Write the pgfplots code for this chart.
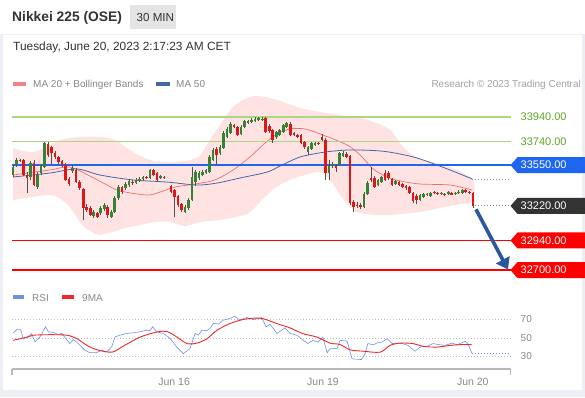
\documentclass[border=0pt]{standalone}
\usepackage{pgfplots}
\pgfplotsset{compat=1.18}
\usepackage{pgfplotstable}
\usetikzlibrary{arrows.meta}
\usepackage{fontspec}
\setmainfont{Liberation Sans}
\definecolor{bggray}{RGB}{236,240,244}
\definecolor{candleup}{RGB}{52,132,52}
\definecolor{candledn}{RGB}{222,22,22}
\definecolor{wickcol}{RGB}{80,80,80}
\definecolor{bbfill}{RGB}{255,226,226}
\definecolor{ma20}{RGB}{240,110,110}
\definecolor{ma50}{RGB}{70,105,165}
\definecolor{resgreen}{RGB}{172,214,128}
\definecolor{restext}{RGB}{92,168,40}
\definecolor{pivotblue}{RGB}{30,102,240}
\definecolor{supred}{RGB}{255,0,0}
\definecolor{lastdark}{RGB}{51,51,51}
\definecolor{arrowblue}{RGB}{42,88,158}
\definecolor{rsiblue}{RGB}{110,145,235}
\definecolor{rsired}{RGB}{240,40,40}
\definecolor{txtgray}{RGB}{136,136,136}
\definecolor{titlegray}{RGB}{51,51,51}
\definecolor{boxgray}{RGB}{228,228,228}
\definecolor{dotgray}{RGB}{190,190,190}

\pgfplotstableread{
i o h l c
0 33470 33551 33454 33535
1 33551 33608 33535 33592
5 33454 33584 33430 33567
7 33373 33494 33357 33470
8 33486 33559 33470 33543
9 33535 33737 33527 33729
17 33503 33543 33486 33527
23 33138 33187 33122 33170
25 33162 33219 33146 33203
26 33195 33243 33179 33227
28 33130 33187 33122 33170
29 33170 33300 33162 33284
30 33284 33389 33268 33373
32 33365 33413 33349 33397
33 33389 33438 33373 33422
35 33405 33446 33397 33430
36 33422 33454 33413 33438
37 33434 33462 33422 33450
39 33446 33519 33438 33511
42 33446 33470 33438 33462
49 33170 33227 33162 33211
50 33203 33284 33187 33268
51 33268 33535 33260 33454
52 33413 33511 33381 33494
53 33446 33503 33430 33486
54 33470 33511 33462 33494
55 33486 33519 33478 33511
56 33494 33632 33486 33616
57 33592 33689 33584 33673
59 33648 33713 33632 33697
60 33689 33827 33681 33810
61 33778 33859 33770 33843
62 33810 33899 33802 33883
65 33802 33875 33794 33859
66 33859 33916 33851 33908
67 33891 33916 33883 33908
68 33899 33932 33891 33916
69 33908 33940 33899 33924
70 33916 33940 33908 33932
71 33916 33940 33908 33924
75 33778 33827 33762 33818
76 33794 33843 33786 33835
77 33818 33883 33810 33875
78 33859 33899 33851 33891
84 33656 33705 33632 33697
85 33681 33737 33673 33729
86 33713 33737 33705 33729
90 33486 33592 33430 33543
91 33543 33575 33527 33559
93 33551 33656 33543 33648
94 33624 33665 33616 33648
100 33211 33332 33203 33316
101 33316 33422 33308 33405
104 33389 33438 33381 33430
105 33413 33462 33405 33454
109 33397 33430 33389 33422
116 33268 33316 33260 33308
117 33292 33324 33284 33316
118 33308 33324 33300 33316
119 33300 33332 33292 33324
122 33316 33332 33308 33324
124 33316 33341 33308 33332
126 33320 33332 33308 33328
127 33328 33349 33316 33336
128 33324 33357 33316 33349
}\upcandles

\pgfplotstableread{
i o h l c
2 33592 33600 33575 33584
3 33592 33600 33462 33470
4 33470 33494 33324 33446
6 33567 33592 33381 33389
10 33721 33737 33616 33632
11 33697 33705 33551 33648
12 33648 33665 33600 33616
13 33616 33624 33559 33575
14 33584 33592 33535 33551
15 33551 33567 33422 33430
16 33438 33454 33381 33397
18 33511 33527 33405 33413
19 33413 33430 33349 33365
20 33357 33365 33106 33203
21 33211 33235 33170 33187
22 33203 33219 33138 33146
24 33162 33170 33122 33130
27 33211 33227 33122 33146
31 33373 33381 33316 33332
34 33413 33430 33389 33405
38 33454 33462 33438 33446
40 33511 33519 33462 33470
41 33486 33494 33422 33430
43 33454 33462 33438 33446
45 33381 33389 33324 33332
46 33349 33357 33130 33292
47 33300 33308 33211 33227
48 33235 33243 33170 33187
58 33681 33697 33551 33632
63 33875 33883 33851 33859
64 33859 33867 33786 33794
72 33932 33940 33810 33818
73 33867 33883 33810 33827
74 33835 33843 33729 33754
79 33883 33899 33786 33794
80 33810 33818 33786 33794
81 33794 33802 33770 33778
82 33794 33802 33721 33729
83 33737 33746 33681 33697
87 33729 33737 33713 33721
88 33778 33802 33746 33754
89 33754 33770 33430 33486
92 33543 33559 33494 33527
95 33640 33656 33608 33616
96 33624 33632 33227 33243
97 33251 33268 33170 33211
98 33227 33251 33203 33219
99 33227 33243 33195 33211
102 33446 33535 33413 33430
103 33446 33462 33365 33373
106 33486 33511 33422 33430
107 33486 33503 33430 33446
108 33438 33446 33381 33389
110 33413 33422 33381 33389
111 33397 33405 33365 33373
112 33381 33389 33349 33361
113 33373 33381 33316 33324
114 33324 33332 33243 33260
115 33300 33316 33235 33268
120 33332 33341 33316 33324
121 33324 33332 33308 33316
123 33316 33324 33300 33310
125 33324 33332 33308 33312
129 33349 33357 33324 33332
130 33332 33341 33316 33326
131 33324 33332 33203 33220
}\dncandles

% Bollinger band outline: upper band left to right, then lower band right to left
\pgfplotstableread{
i p
0 33689
4.8 33656
9.1 33689
13.4 33754
19.1 33778
24.8 33778
29.1 33754
33.3 33673
39.0 33592
44.7 33575
50.4 33592
53.3 33632
56.1 33754
59.0 33875
62.4 34013
66.1 34086
68.9 34110
71.8 34102
76.1 34070
81.8 34013
87.5 33981
93.2 33956
98.9 33932
102.6 33900
107.4 33835
111.7 33681
116.0 33600
120.8 33567
126.5 33511
131 33430
131 33260
127.4 33235
121.7 33203
116.0 33170
110.3 33154
104.6 33146
98.9 33162
96.0 33211
93.2 33308
90.3 33430
87.5 33494
83.2 33470
78.9 33430
74.6 33365
70.9 33268
67.5 33170
64.7 33138
59.0 33106
53.3 33090
49.0 33057
44.7 33090
40.5 33090
36.2 33065
31.9 33041
28.2 33009
24.8 32984
22.5 33009
19.7 33065
16.8 33187
14.0 33268
10.5 33308
3.4 33284
0 33268
}\bbands

\pgfplotstableread{
i p
0 33470
10.5 33511
16.2 33535
21.9 33462
26.8 33389
30.5 33341
38.2 33308
41.9 33332
46.2 33373
51.9 33397
57.5 33430
62.7 33511
67.5 33616
71.8 33729
75.2 33802
78.9 33843
83.2 33843
88.3 33794
95.2 33713
98.9 33632
102.6 33519
106.6 33454
110.3 33422
116.0 33397
124.5 33389
130.8 33349
}\maTwenty

\pgfplotstableread{
i p
0 33454
10.5 33486
18.2 33519
24.8 33470
34.2 33430
43.9 33413
52.4 33389
58.1 33405
64.7 33446
72.4 33494
76.1 33543
81.8 33616
88.9 33656
96.0 33673
104.6 33665
110.3 33640
116.0 33600
124.5 33511
130.8 33438
}\maFifty

\pgfplotstableread{
i v
0.1 55.5
1.05 59
2.2 59
2.9 49.5
3.9 50.4
5.3 54.7
6.3 45.8
7.7 51.3
9.3 62.2
10.1 56.7
11.5 56
12.9 53.8
13.9 55
16.2 44
17.2 48.4
18.6 44
20.5 36.7
21.9 34.2
23.8 34.2
25.3 36.7
26.7 34.9
28.1 40.4
29.1 51.3
30.5 53.1
32.4 54.9
34.3 55.6
36.2 56.7
38.1 58.5
39.0 57.8
39.8 62.2
40.9 56.7
42.8 54.9
44.2 51.3
45.2 47.6
46.6 40.4
48.5 33.1
50.4 38.5
51.9 54.9
52.8 53.1
53.8 58.5
55.2 57.8
56.1 60.4
57.1 65.8
58.5 65.1
59.9 69.3
61.8 71.1
63.2 73.6
64.7 69.3
66.6 72.2
68.5 70
70.9 72
72.1 62
73.2 65
75.2 55
77.5 61
78.9 55
80.9 53
82.6 48
84.0 44
85.5 47.5
86.9 45.6
88.3 51
89.5 34
90.3 38.4
92.3 38.4
93.2 47.5
95.2 46.7
96.6 27.5
99.3 26.7
100.3 33
101.1 44
102.6 42.7
104.0 45
105.1 45.6
106.6 49.3
108.0 44
109.4 44.5
111.1 44
112.5 42
114.5 35.8
116.0 40.2
117.9 41
119.7 44
121.1 43
123.1 42
125.1 44.5
126.5 42.7
128.8 46.4
129.6 44
130.8 33
}\rsi

\pgfplotstableread{
i v
0 47.5
4.0 51
5.7 53
10.5 53.6
15.4 53
18.2 49.3
21.1 42
23.9 37.3
28.2 34.7
31.3 41
36.2 51
41.0 56.5
43.9 57
46.7 51
49.6 44
52.4 44.5
55.3 49.3
58.1 58.4
61.8 65.6
65.5 70
68.9 71.5
71.2 71
75.2 65.6
78.9 61
82.6 54.7
86.6 51
90.3 44.5
93.2 43
96.0 37.3
99.7 35.8
104.6 34.7
107.4 42
110.3 44.5
114.0 44
116.8 41
120.8 40.2
124.5 42
128.2 43
130.8 42.7
}\rsima

\newcommand{\tagfont}{\fontsize{11}{13}\selectfont}
\newcommand{\pricetag}[3]{%
  \fill[#1] (#2) -- ++(7pt,8pt) -- ++(67.5pt,0pt) -- ++(0pt,-16pt) -- ++(-67.5pt,0pt) -- cycle;
  \node[anchor=west, inner sep=0, text=white, font=\tagfont, xshift=10pt] at (#2) {#3};}

\begin{document}
\begin{tikzpicture}
\fill[bggray] (0,0) rectangle (585pt,397pt);
\fill[white] (0,363pt) rectangle (585pt,397pt);
\fill[white] (3pt,7pt) rectangle (582pt,362pt);

% header
\node[anchor=base west, inner sep=0, text=titlegray] at (12pt,375pt) {\fontsize{13.8}{16}\selectfont\bfseries Nikkei 225 (OSE)};
\fill[boxgray] (130pt,368pt) rectangle (176pt,392pt);
\node[anchor=base west, inner sep=0, text=titlegray] at (136.5pt,375pt) {\fontsize{11.6}{14}\selectfont 30 MIN};
\node[anchor=base west, inner sep=0, text=titlegray] at (13pt,346pt) {\fontsize{11.9}{14}\selectfont Tuesday, June 20, 2023 2:17:23 AM CET};

% legends
\fill[ma20!85] (13pt,311pt) rectangle (26pt,315pt);
\node[anchor=base west, inner sep=0, text=txtgray] at (33pt,309pt) {\fontsize{10}{12}\selectfont MA 20 + Bollinger Bands};
\fill[ma50] (156pt,311pt) rectangle (170pt,315pt);
\node[anchor=base west, inner sep=0, text=txtgray] at (176pt,309pt) {\fontsize{10}{12}\selectfont MA 50};
\node[anchor=base east, inner sep=0, text=txtgray!80] at (581pt,309pt) {\fontsize{10}{12}\selectfont Research © 2023 Trading Central};
\fill[rsiblue] (13pt,98pt) rectangle (24pt,102pt);
\node[anchor=base west, inner sep=0, text=txtgray] at (32pt,96pt) {\fontsize{10}{12}\selectfont RSI};
\fill[rsired] (62pt,98pt) rectangle (74pt,102pt);
\node[anchor=base west, inner sep=0, text=txtgray] at (82pt,96pt) {\fontsize{10}{12}\selectfont 9MA};

% price panel
\begin{axis}[at={(12pt,115pt)}, anchor=south west, scale only axis,
  width=498.5pt, height=187pt,
  xmin=-0.285, xmax=141.74, ymin=32603.5, ymax=34118.2,
  hide axis, clip=false]
\addplot[fill=bbfill, draw=none, mark=none, smooth, tension=0.6] table[x=i,y=p] {\bbands} -- cycle;
\addplot[color=ma20, mark=none, line width=0.7pt, smooth, tension=0.5] table[x=i,y=p] {\maTwenty};
\addplot[color=ma50, mark=none, line width=0.8pt, smooth, tension=0.5] table[x=i,y=p] {\maFifty};
\addplot[color=ma50!70, mark=none, dash pattern=on 1pt off 2pt, line width=0.8pt] coordinates {(130.8,33438) (141.74,33438)};
% levels
\addplot[color=resgreen, mark=none, line width=1.5pt] coordinates {(-0.285,33940) (141.74,33940)};
\addplot[color=resgreen, mark=none, line width=1.5pt] coordinates {(-0.285,33740) (141.74,33740)};
\addplot[color=pivotblue, mark=none, line width=1.4pt] coordinates {(-0.285,33550) (141.74,33550)};
\addplot[color=supred, mark=none, line width=1.8pt] coordinates {(-0.285,32940) (141.74,32940)};
\addplot[color=supred, mark=none, line width=1.8pt] coordinates {(-0.285,32700) (141.74,32700)};
% wicks
\addplot[color=wickcol, mark=none, line width=0.6pt, -, quiver={u=0, v=\thisrow{h}-\thisrow{l}}]
  table[x=i, y=l] {\upcandles};
\addplot[color=wickcol, mark=none, line width=0.6pt, -, quiver={u=0, v=\thisrow{h}-\thisrow{l}}]
  table[x=i, y=l] {\dncandles};
% bodies
\addplot[color=candleup, mark=none, line width=2.6pt, -, quiver={u=0, v=\thisrow{c}-\thisrow{o}}]
  table[x=i, y=o] {\upcandles};
\addplot[color=candledn, mark=none, line width=2.6pt, -, quiver={u=0, v=\thisrow{c}-\thisrow{o}}]
  table[x=i, y=o] {\dncandles};
% last price dotted
\addplot[color=gray, mark=none, dash pattern=on 1pt off 2pt, line width=0.8pt] coordinates {(131.6,33220) (141.74,33220)};
% arrow
\draw[arrowblue, line width=3.6pt, -{Triangle[length=11pt,width=15pt]}] (axis cs:131.9,33192) -- (axis cs:141.0,32705);
% labels
\node[anchor=west, inner sep=0, text=restext, font=\tagfont, xshift=10pt] at (axis cs:141.74,33940) {33940.00};
\node[anchor=west, inner sep=0, text=restext, font=\tagfont, xshift=10pt] at (axis cs:141.74,33740) {33740.00};
\coordinate (tA) at (axis cs:141.74,33550);
\coordinate (tB) at (axis cs:141.74,33220);
\coordinate (tC) at (axis cs:141.74,32940);
\coordinate (tD) at (axis cs:141.74,32700);
\end{axis}
\pricetag{pivotblue}{tA}{33550.00}
\pricetag{lastdark}{tB}{33220.00}
\pricetag{supred}{tC}{32940.00}
\pricetag{supred}{tD}{32700.00}

% RSI panel
\begin{axis}[at={(12pt,28pt)}, anchor=south west, scale only axis,
  width=498.5pt, height=69pt,
  xmin=-0.285, xmax=141.74, ymin=16.5, ymax=91.1,
  axis x line=bottom, axis y line=none,
  x axis line style={-, draw=gray!55, line width=1.5pt},
  ytick=\empty, xtick={45.9,88.3,131}, xticklabels={Jun 16,Jun 19,Jun 20},
  major tick length=0pt,
  xticklabel style={font=\fontsize{10.5}{12}\selectfont, text=txtgray, anchor=base, yshift=-16.5pt},
  clip=false]
\draw[dotgray, dash pattern=on 1pt off 2pt, line width=0.8pt] (axis cs:-0.285,70) -- (axis cs:141.74,70);
\draw[dotgray, dash pattern=on 1pt off 2pt, line width=0.8pt] (axis cs:-0.285,50) -- (axis cs:141.74,50);
\draw[dotgray, dash pattern=on 1pt off 2pt, line width=0.8pt] (axis cs:-0.285,30) -- (axis cs:141.74,30);
\addplot[color=rsiblue, mark=none, line width=0.6pt] table[x=i,y=v] {\rsi};
\addplot[color=rsiblue, mark=none, dash pattern=on 1pt off 2pt, line width=0.8pt] coordinates {(130.8,33) (141.74,33)};
\addplot[color=rsired, mark=none, line width=0.9pt, smooth, tension=0.5] table[x=i,y=v] {\rsima};
\node[anchor=west, inner sep=0, text=txtgray, font=\fontsize{10}{12}\selectfont, xshift=10pt] at (axis cs:141.74,70) {70};
\node[anchor=west, inner sep=0, text=txtgray, font=\fontsize{10}{12}\selectfont, xshift=10pt] at (axis cs:141.74,50) {50};
\node[anchor=west, inner sep=0, text=txtgray, font=\fontsize{10}{12}\selectfont, xshift=10pt] at (axis cs:141.74,30) {30};
\coordinate (rL) at (rel axis cs:0,0);
\coordinate (rR) at (rel axis cs:1,0);
\end{axis}
\draw[gray!55, line width=1.5pt] (rL) -- ++(0pt,-6pt);
\draw[gray!55, line width=1.5pt] (rR) -- ++(0pt,-6pt);
\pgfresetboundingbox
\useasboundingbox (0,0) rectangle (585pt,397pt);
\end{tikzpicture}
\end{document}
